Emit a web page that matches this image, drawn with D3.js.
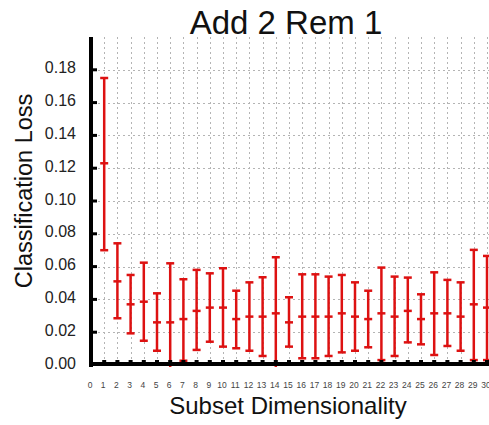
<!DOCTYPE html>
<html>
<head>
<meta charset="utf-8">
<script src="https://cdn.jsdelivr.net/npm/d3@7"></script>
<style>
  body { margin: 0; background: #fff; }
  text { font-family: "Liberation Sans", Arial, sans-serif; }
</style>
</head>
<body>
<div id="chart"></div>
<script>
// subset sizes and loss statistics (mean, upper, lower)
var dims = [1,2,3,4,5,6,7,8,9,10,11,12,13,14,15,16,17,18,19,20,21,22,23,24,25,26,27,28,29,30];
var meanLoss = [0.123,0.051,0.037,0.0386,0.026,0.026,0.028,0.033,0.035,0.035,0.028,0.0295,0.0295,0.0315,0.026,
                0.0295,0.0295,0.0295,0.0315,0.0295,0.028,0.0315,0.0295,0.033,0.028,0.0315,0.0315,0.0295,0.037,0.035];
var upperLoss = [0.175,0.0742,0.0549,0.0624,0.0437,0.062,0.0523,0.058,0.0559,0.059,0.0453,0.0504,0.0535,0.0657,0.0413,
                 0.0553,0.0553,0.0539,0.0549,0.0504,0.0453,0.0594,0.0539,0.0533,0.0431,0.0565,0.0519,0.0504,0.0702,0.0665];
var lowerLoss = [0.070,0.0285,0.0193,0.0148,0.0087,-0.010,0.0026,0.0092,0.0142,0.0112,0.0102,0.0087,0.0055,-0.003,0.0112,
                 0.0041,0.0041,0.0055,0.0077,0.0087,0.0108,0.003,0.0055,0.0138,0.0126,0.0061,0.0116,0.0087,0.003,0.003];
var yTicks = [0,0.02,0.04,0.06,0.08,0.10,0.12,0.14,0.16,0.18];
var xTicks = d3.range(0, 31);

var W = 489, H = 425;
var svg = d3.select("#chart").append("svg")
    .attr("width", W)
    .attr("height", H);

var x = d3.scaleLinear().domain([0, 30]).range([91, 487]);
var y = d3.scaleLinear().domain([0, 0.2]).range([365, 37]);

// clip so bars stop at the axes / page edge
svg.append("clipPath").attr("id", "plotclip")
  .append("rect")
    .attr("x", 91).attr("y", 37)
    .attr("width", W - 91).attr("height", 330);

// grid
var grid = svg.append("g")
    .attr("stroke", "#b4b4b4")
    .attr("stroke-width", 1)
    .attr("stroke-dasharray", "2,3");
grid.selectAll(".vg")
  .data(xTicks.filter(function(d){ return d > 0; }))
  .enter().append("line")
    .attr("x1", function(d){ return Math.round(x(d)) + 0.5; })
    .attr("x2", function(d){ return Math.round(x(d)) + 0.5; })
    .attr("y1", 37).attr("y2", 363);
grid.selectAll(".hg")
  .data(yTicks.filter(function(d){ return d > 0; }))
  .enter().append("line")
    .attr("x1", 93).attr("x2", W)
    .attr("y1", function(d){ return Math.round(y(d)) + 0.5; })
    .attr("y2", function(d){ return Math.round(y(d)) + 0.5; });

// error bars
var red = "#dd1111";
var bars = svg.append("g").attr("clip-path", "url(#plotclip)")
  .selectAll(".bar")
  .data(dims)
  .enter().append("g");

bars.append("line")
    .attr("x1", function(d){ return x(d); })
    .attr("x2", function(d){ return x(d); })
    .attr("y1", function(d, i){ return y(upperLoss[i]); })
    .attr("y2", function(d, i){ return y(lowerLoss[i]); })
    .attr("stroke", red)
    .attr("stroke-width", 2.5);

[upperLoss, meanLoss, lowerLoss].forEach(function(arr) {
  bars.append("line")
      .attr("x1", function(d){ return x(d) - 4; })
      .attr("x2", function(d){ return x(d) + 4; })
      .attr("y1", function(d, i){ return y(arr[i]); })
      .attr("y2", function(d, i){ return y(arr[i]); })
      .attr("stroke", red)
      .attr("stroke-width", 2.5);
});

// axes: thick black spines with short inner ticks
svg.append("rect")
    .attr("x", 89).attr("y", 37)
    .attr("width", 4).attr("height", 330)
    .attr("fill", "#000");
svg.append("rect")
    .attr("x", 89).attr("y", 362)
    .attr("width", W - 89).attr("height", 4)
    .attr("fill", "#000");

svg.append("g").selectAll("rect")
  .data(yTicks.filter(function(d){ return d > 0; }))
  .enter().append("rect")
    .attr("x", 92).attr("y", function(d){ return y(d) - 1.5; })
    .attr("width", 5).attr("height", 3)
    .attr("fill", "#000");

svg.append("g").selectAll("rect")
  .data(xTicks.filter(function(d){ return d > 0; }))
  .enter().append("rect")
    .attr("x", function(d){ return x(d) - 2; })
    .attr("y", 360)
    .attr("width", 4).attr("height", 3)
    .attr("fill", "#000");

// tick labels
svg.append("g").selectAll("text")
  .data(yTicks)
  .enter().append("text")
    .attr("x", 76)
    .attr("y", function(d){ return y(d) - 2; })
    .attr("dy", "0.35em")
    .attr("text-anchor", "end")
    .style("font-size", "16px")
    .style("fill", "#222")
    .text(d3.format(".2f"));

svg.append("g").selectAll("text")
  .data(xTicks)
  .enter().append("text")
    .attr("x", function(d){ return x(d) - 1; })
    .attr("y", 388)
    .attr("text-anchor", "middle")
    .style("font-size", "8.5px")
    .style("fill", "#444")
    .text(function(d){ return d; });

// titles
svg.append("text")
    .attr("x", 286)
    .attr("y", 34)
    .attr("text-anchor", "middle")
    .style("font-size", "33px")
    .style("fill", "#111")
    .text("Add 2 Rem 1");

svg.append("text")
    .attr("x", 288)
    .attr("y", 414)
    .attr("text-anchor", "middle")
    .style("font-size", "24px")
    .style("fill", "#111")
    .text("Subset Dimensionality");

svg.append("text")
    .attr("transform", "translate(32,191) rotate(-90)")
    .attr("text-anchor", "middle")
    .style("font-size", "23.5px")
    .style("fill", "#111")
    .text("Classification Loss");
</script>
</body>
</html>
